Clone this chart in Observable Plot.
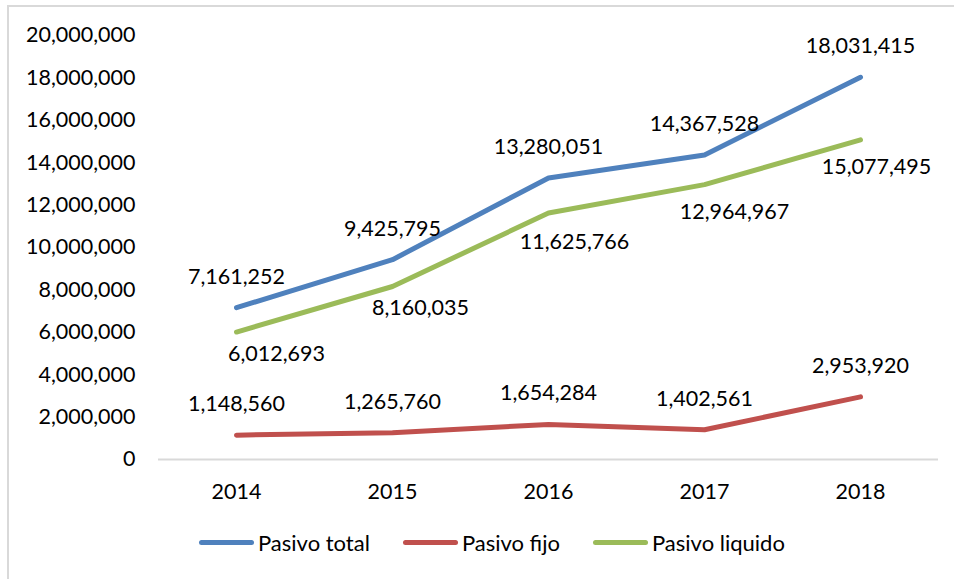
<!DOCTYPE html>
<html>
<head>
<meta charset="utf-8">
<script src="https://cdn.jsdelivr.net/npm/d3@7"></script>
<script src="https://cdn.jsdelivr.net/npm/@observablehq/plot@0.6"></script>
<style>
  html, body { margin: 0; padding: 0; background: #fff; }
  #wrap { position: relative; width: 954px; height: 579px; overflow: hidden; font-family: Lato, "Open Sans", sans-serif; }
  #frame { position: absolute; left: 7px; top: 5px; width: 1100px; height: 1100px; border: 2px solid #d9d9d9; box-sizing: border-box; }
  #chart { position: absolute; left: 0; top: 0; }
  #legend { position: absolute; left: 199px; top: 529px; display: flex; align-items: center; font-size: 22px; color: #000; white-space: nowrap; }
  .item { display: flex; align-items: center; margin-right: 33px; }
  .sw { width: 55px; height: 5px; border-radius: 3px; margin-right: 4px; }
</style>
</head>
<body>
<div id="wrap">
  <div id="frame"></div>
  <div id="chart"></div>
  <div id="legend"></div>
</div>
<script>
// ---- data ----
const years = ["2014", "2015", "2016", "2017", "2018"];
const pasivoTotal = [7161252, 9425795, 13280051, 14367528, 18031415];
const pasivoFijo = [1148560, 1265760, 1654284, 1402561, 2953920];
const pasivoLiquido = [6012693, 8160035, 11625766, 12964967, 15077495];
const seriesNames = ["Pasivo total", "Pasivo fijo", "Pasivo liquido"];
const yTicks = [0, 2000000, 4000000, 6000000, 8000000, 10000000, 12000000, 14000000, 16000000, 18000000, 20000000];

// ---- styling / layout ----
const colors = ["#4f81bd", "#c0504d", "#9bbb59"];
// label nudges (layout only): [dx, dy]
const labelNudge = {
  "Pasivo total": years.map(() => [0, -31]),
  "Pasivo fijo": years.map(() => [0, -31]),
  "Pasivo liquido": [[40, 22], [28, 22], [26, 29], [30, 27], [16, 27]]
};

const seriesValues = [pasivoTotal, pasivoFijo, pasivoLiquido];
const rows = [];
seriesNames.forEach((s, si) => {
  years.forEach((y, i) => {
    rows.push({series: s, year: y, value: seriesValues[si][i], dx: labelNudge[s][i][0], dy: labelNudge[s][i][1]});
  });
});

const fmt = d3.format(",");

const labelMarks = rows.map(r => Plot.text([r], {
  x: "year", y: "value", text: d => fmt(d.value), dx: r.dx, dy: r.dy, fill: "#000"
}));

const chart = Plot.plot({
  width: 954,
  height: 520,
  marginLeft: 158,
  marginRight: 16,
  marginTop: 35,
  marginBottom: 61,
  style: {fontFamily: "Lato, 'Open Sans', sans-serif", fontSize: "21.5px", color: "#000", background: "transparent"},
  x: {type: "point", domain: years, padding: 0.5, align: 0.5, label: null},
  y: {domain: [0, 20000000], label: null},
  color: {domain: seriesNames, range: colors},
  marks: [
    Plot.ruleY([0], {stroke: "#d9d9d9", strokeWidth: 2}),
    Plot.axisY({ticks: yTicks, tickSize: 0, tickPadding: 23, tickFormat: fmt, label: null}),
    Plot.axisX({tickSize: 0, tickPadding: 24, label: null}),
    Plot.line(rows, {x: "year", y: "value", z: "series", stroke: "series", strokeWidth: 5, strokeLinecap: "round", strokeLinejoin: "round"}),
    ...labelMarks
  ]
});
document.getElementById("chart").appendChild(chart);

const legend = document.getElementById("legend");
seriesNames.forEach((s, i) => {
  const item = document.createElement("div");
  item.className = "item";
  const sw = document.createElement("div");
  sw.className = "sw";
  sw.style.background = colors[i];
  const t = document.createElement("span");
  t.textContent = s;
  item.appendChild(sw);
  item.appendChild(t);
  legend.appendChild(item);
});
</script>
</body>
</html>
